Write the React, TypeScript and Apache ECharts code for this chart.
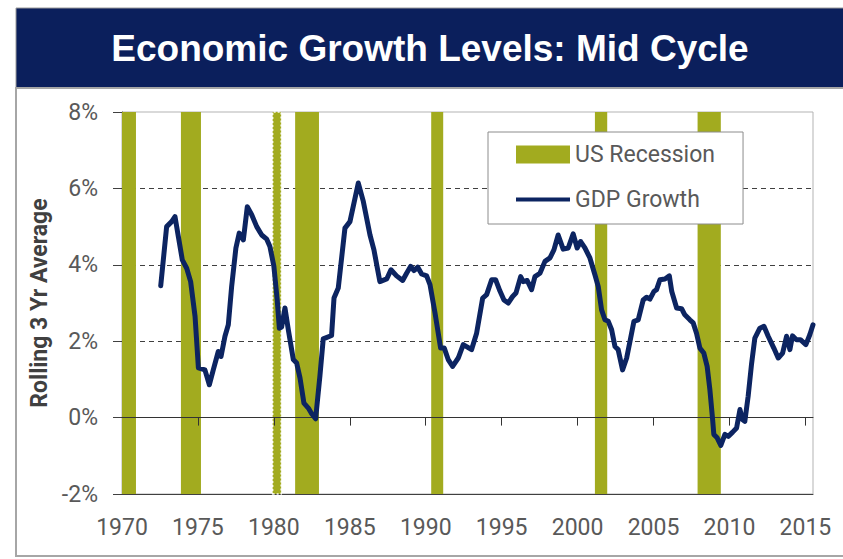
import React, { useEffect, useRef } from "react";
import * as echarts from "echarts";

// ---- Data ----
const xTicks = [1970, 1975, 1980, 1985, 1990, 1995, 2000, 2005, 2010, 2015];
const yTicks = [-2, 0, 2, 4, 6, 8];

// US recession periods (start year, end year as decimal years)
const recessionStart = [1969.98, 1973.88, 1979.92, 1981.4, 1990.36, 2001.14, 2007.9];
const recessionEnd = [1970.92, 1975.2, 1980.48, 1982.97, 1991.15, 2001.95, 2009.43];

// GDP growth, rolling 3-year average (%)
const gdpYears = [
  1972.55, 1972.94, 1973.27, 1973.49, 1973.71, 1973.97, 1974.26, 1974.52, 1974.81, 1975.03,
  1975.46, 1975.75, 1976.01, 1976.34, 1976.52, 1976.78, 1977.0, 1977.22, 1977.5, 1977.72,
  1977.99, 1978.25, 1978.54, 1978.87, 1979.2, 1979.53, 1979.74, 1980.0, 1980.22, 1980.36,
  1980.51, 1980.73, 1980.95, 1981.28, 1981.5, 1981.72, 1981.98, 1982.27, 1982.49, 1982.75,
  1983.03, 1983.25, 1983.8, 1983.96, 1984.24, 1984.68, 1985.01, 1985.56, 1985.89, 1986.33,
  1986.59, 1986.98, 1987.43, 1987.71, 1988.08, 1988.48, 1988.74, 1989.01, 1989.22, 1989.47,
  1989.73, 1990.06, 1990.28, 1990.61, 1990.98, 1991.22, 1991.48, 1991.77, 1992.14, 1992.47,
  1992.69, 1993.02, 1993.35, 1993.75, 1994.01, 1994.34, 1994.6, 1994.88, 1995.15, 1995.43,
  1995.72, 1995.94, 1996.25, 1996.42, 1996.68, 1996.97, 1997.19, 1997.52, 1997.85, 1998.18,
  1998.44, 1998.72, 1999.05, 1999.38, 1999.71, 1999.97, 2000.2, 2000.48, 2000.81, 2001.14,
  2001.36, 2001.58, 2001.8, 2002.02, 2002.24, 2002.46, 2002.67, 2002.96, 2003.23, 2003.49,
  2003.71, 2003.99, 2004.32, 2004.54, 2004.76, 2005.02, 2005.2, 2005.42, 2005.75, 2006.04,
  2006.2, 2006.52, 2006.85, 2007.06, 2007.39, 2007.61, 2007.83, 2008.05, 2008.31, 2008.53,
  2008.71, 2008.89, 2008.97, 2009.19, 2009.43, 2009.7, 2009.92, 2010.21, 2010.47, 2010.69,
  2010.86, 2011.01, 2011.23, 2011.45, 2011.67, 2012.0, 2012.27, 2012.55, 2012.92, 2013.21,
  2013.5, 2013.76, 2013.98, 2014.15, 2014.41, 2014.67, 2015.03, 2015.29, 2015.5,
];
const gdpValues = [
  3.45, 5.0, 5.13, 5.26, 4.74, 4.13, 3.91, 3.56, 2.65, 1.3,
  1.25, 0.86, 1.25, 1.73, 1.6, 2.13, 2.43, 3.43, 4.44, 4.83,
  4.65, 5.52, 5.31, 5.0, 4.78, 4.67, 4.48, 3.96, 3.08, 2.34,
  2.37, 2.87, 2.3, 1.52, 1.43, 1.04, 0.38, 0.25, 0.1, -0.03,
  1.08, 2.06, 2.15, 3.13, 3.39, 4.96, 5.13, 6.14, 5.66, 4.78,
  4.39, 3.56, 3.63, 3.87, 3.71, 3.59, 3.78, 3.96, 3.85, 3.94,
  3.76, 3.71, 3.48, 2.74, 1.82, 1.82, 1.52, 1.34, 1.56, 1.91,
  1.86, 1.78, 2.21, 3.13, 3.22, 3.61, 3.61, 3.32, 3.08, 3.0,
  3.17, 3.26, 3.69, 3.56, 3.59, 3.35, 3.69, 3.78, 4.09, 4.18,
  4.39, 4.78, 4.41, 4.44, 4.81, 4.44, 4.61, 4.44, 4.18, 3.74,
  3.43, 2.82, 2.56, 2.52, 2.3, 1.86, 1.78, 1.25, 1.56, 2.08,
  2.52, 2.56, 3.08, 3.15, 3.1, 3.3, 3.35, 3.61, 3.63, 3.71,
  3.3, 2.87, 2.85, 2.69, 2.56, 2.48, 2.21, 1.82, 1.69, 1.34,
  0.73, -0.05, -0.44, -0.53, -0.73, -0.44, -0.49, -0.38, -0.27, 0.21,
  -0.05, -0.1, 0.56, 1.39, 2.08, 2.34, 2.39, 2.13, 1.82, 1.56,
  1.69, 2.13, 1.78, 2.14, 2.04, 2.04, 1.91, 2.17, 2.43,
];

const NAVY = "#0c2461";
const OLIVE = "#a2ab1f";
const TITLE_BG = "#0b1f5c";
const LABEL = "#595959";
const FONT = "Roboto, 'Noto Sans', sans-serif";
// legend line icon: a 4px bar inside an 54x18 box (invisible corner points fix the box)
const LINE_ICON = "path://M0,0L0.01,0L0.01,0.01L0,0.01ZM0,18L0.01,18L0.01,17.99L0,17.99ZM0,7L54,7L54,11L0,11Z";

const GRID_TOP = 112;
const GRID_BOTTOM = 65;
const CHART_H = 559;

export default function App() {
  const ref = useRef<HTMLDivElement>(null);

  useEffect(() => {
    if (!ref.current) return;
    const chart = echarts.init(ref.current, null, { renderer: "svg" });

    const lineData = gdpYears.map((y, i) => [y, gdpValues[i]]);
    const areas = recessionStart.map((s, i) => {
      const first: any = { xAxis: s };
      if (s > 1979 && s < 1980.5) {
        first.itemStyle = {
          color: OLIVE,
          borderColor: "rgba(255,255,255,0.95)",
          borderWidth: 1.5,
          borderType: [2, 2],
        };
      }
      return [first, { xAxis: recessionEnd[i] }];
    });

    // distance of the 0% line above the plot bottom (for the zero axis)
    const yMin = yTicks[0];
    const yMax = yTicks[yTicks.length - 1];
    const plotH = CHART_H - GRID_TOP - GRID_BOTTOM;
    const zeroOffset = -((0 - yMin) / (yMax - yMin)) * plotH;

    chart.setOption({
      animation: false,
      backgroundColor: "#ffffff",
      grid: {
        left: 122,
        right: 30,
        top: GRID_TOP,
        bottom: GRID_BOTTOM,
        show: true,
        borderColor: "#b3b3b3",
        borderWidth: 1,
        backgroundColor: "transparent",
      },
      graphic: [
        {
          type: "rect",
          shape: { x: 16, y: 8, width: 840, height: 80 },
          style: { fill: TITLE_BG, stroke: "#9a9a9a", lineWidth: 1 },
          z: 0,
        },
        {
          type: "rect",
          shape: { x: 16, y: 88, width: 840, height: 468 },
          style: { fill: "none", stroke: "#a6a6a6", lineWidth: 2 },
          z: 0,
        },
        {
          type: "text",
          x: 430,
          y: 48,
          style: {
            text: "Economic Growth Levels: Mid Cycle",
            fill: "#ffffff",
            font: "bold 37px 'Liberation Sans', Arial, sans-serif",
            textAlign: "center",
            textVerticalAlign: "middle",
          },
          z: 10,
        },
        {
          type: "text",
          x: 39,
          y: 303,
          rotation: Math.PI / 2,
          style: {
            text: "Rolling 3 Yr Average",
            fill: "#404040",
            font: "bold 23px " + FONT,
            textAlign: "center",
            textVerticalAlign: "middle",
          },
          z: 10,
        },
      ],
      legend: {
        left: 488,
        top: 132,
        orient: "vertical",
        itemWidth: 54,
        itemHeight: 18,
        itemGap: 22,
        padding: [11, 28, 13, 28],
        backgroundColor: "#ffffff",
        borderColor: "#8c8c8c",
        borderWidth: 1,
        textStyle: { color: LABEL, fontSize: 23, fontFamily: FONT },
        data: [
          { name: "US Recession", icon: "rect", itemStyle: { color: OLIVE } },
          { name: "GDP Growth", icon: LINE_ICON, itemStyle: { color: NAVY } },
        ],
      },
      xAxis: [
        {
          type: "value",
          min: xTicks[0],
          max: 2015.5,
          interval: 5,
          position: "bottom",
          axisLine: { show: true, onZero: false, lineStyle: { color: "#404040", width: 1 } },
          axisTick: { show: false },
          splitLine: { show: false },
          axisLabel: {
            customValues: xTicks,
            margin: 22,
            color: LABEL,
            fontSize: 23,
            fontFamily: FONT,
            formatter: (v: number) => (xTicks.includes(v) ? String(v) : ""),
          },
        },
        {
          type: "value",
          min: xTicks[0],
          max: 2015.5,
          interval: 5,
          position: "bottom",
          offset: zeroOffset,
          z: 2,
          axisLine: { show: true, onZero: false, lineStyle: { color: "#333333", width: 1 } },
          axisTick: {
            show: true,
            length: 8,
            customValues: xTicks.slice(1),
            lineStyle: { color: "#333333", width: 1 },
          },
          axisLabel: { show: false },
          splitLine: { show: false },
        },
      ],
      yAxis: {
        type: "value",
        min: yMin,
        max: yMax,
        interval: 2,
        axisLine: { show: true, onZero: false, lineStyle: { color: "#404040", width: 1 } },
        axisTick: { show: true, length: 9, lineStyle: { color: "#404040", width: 1 } },
        axisLabel: {
          margin: 24,
          color: LABEL,
          fontSize: 23,
          fontFamily: FONT,
          formatter: (v: number) => v + "%",
        },
        splitLine: {
          show: true,
          showMinLine: false,
          showMaxLine: false,
          lineStyle: { color: "#404040", type: [5, 4], width: 1 },
        },
      },
      series: [
        {
          name: "US Recession",
          type: "line",
          data: [],
          color: OLIVE,
          symbol: "none",
          z: 1,
          silent: true,
          markArea: {
            silent: true,
            itemStyle: { color: OLIVE },
            label: { show: false },
            data: areas,
          },
        },
        {
          name: "GDP Growth",
          type: "line",
          data: lineData,
          color: NAVY,
          symbol: "none",
          showSymbol: false,
          z: 3,
          lineStyle: { color: NAVY, width: 5, join: "round", cap: "round" },
        },
      ],
    });

    return () => chart.dispose();
  }, []);

  return (
    <div
      ref={ref}
      style={{ position: "fixed", left: 0, top: 0, width: 843, height: 559 }}
    />
  );
}
